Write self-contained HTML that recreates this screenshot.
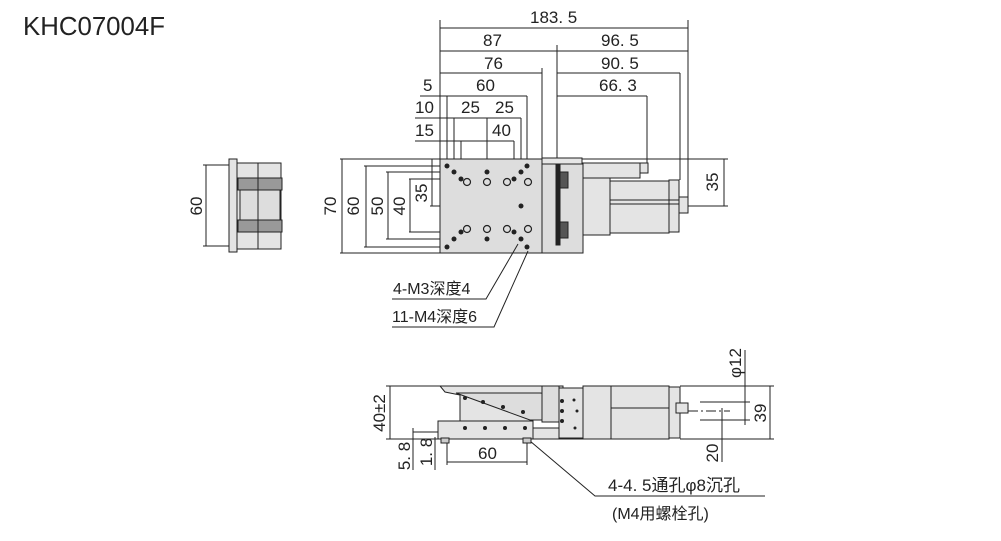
<!DOCTYPE html>
<html><head><meta charset="utf-8"><style>
html,body{margin:0;padding:0;background:#fff;}
svg{display:block}
text{font-family:"Liberation Sans","Noto Sans CJK SC",sans-serif;fill:#222;}
</style></head><body>
<svg width="1001" height="541" viewBox="0 0 1001 541" xmlns="http://www.w3.org/2000/svg">
<text x="23" y="35" font-size="26" textLength="142" lengthAdjust="spacingAndGlyphs">KHC07004F</text>

<g stroke="#222" stroke-width="1" fill="none">
<line x1="440" y1="20" x2="440" y2="159"/>
<line x1="688" y1="20" x2="688" y2="200"/>
<line x1="440" y1="28" x2="688" y2="28"/>
<line x1="440" y1="51" x2="688" y2="51"/>
<line x1="557" y1="45" x2="557" y2="160"/>
<line x1="440" y1="73" x2="542" y2="73"/>
<line x1="542" y1="68" x2="542" y2="160"/>
<line x1="557" y1="73" x2="680" y2="73"/>
<line x1="680" y1="73" x2="680" y2="180"/>
<line x1="447" y1="96" x2="527" y2="96"/>
<line x1="447" y1="96" x2="447" y2="166"/>
<line x1="527" y1="96" x2="527" y2="166"/>
<line x1="420" y1="96" x2="447" y2="96"/>
<line x1="557" y1="96" x2="647" y2="96"/>
<line x1="647" y1="96" x2="647" y2="165"/>
<line x1="415" y1="118" x2="521" y2="118"/>
<line x1="454" y1="118" x2="454" y2="172"/>
<line x1="487" y1="118" x2="487" y2="172"/>
<line x1="521" y1="118" x2="521" y2="206"/>
<line x1="415" y1="141" x2="514" y2="141"/>
<line x1="461" y1="141" x2="461" y2="179"/>
<line x1="514" y1="141" x2="514" y2="179"/>
<line x1="340" y1="159" x2="440" y2="159"/><line x1="340" y1="253" x2="440" y2="253"/>
<line x1="342" y1="159" x2="342" y2="253"/>
<line x1="364" y1="166" x2="447" y2="166"/><line x1="364" y1="247" x2="447" y2="247"/>
<line x1="366" y1="166" x2="366" y2="247"/>
<line x1="386" y1="172" x2="454" y2="172"/><line x1="386" y1="239" x2="454" y2="239"/>
<line x1="388" y1="172" x2="388" y2="239"/>
<line x1="409" y1="179" x2="461" y2="179"/><line x1="409" y1="232" x2="461" y2="232"/>
<line x1="410" y1="179" x2="410" y2="232"/>
<line x1="430" y1="206" x2="440" y2="206"/>
<line x1="432" y1="159" x2="432" y2="206"/>
<line x1="540" y1="206" x2="728" y2="206"/>
<line x1="540" y1="159" x2="728" y2="159"/>
<line x1="724" y1="159" x2="724" y2="206"/>
</g>
<g font-size="17">
<text x="530" y="23">183. 5</text>
<text x="483" y="46">87</text>
<text x="601" y="46">96. 5</text>
<text x="484" y="69">76</text>
<text x="601" y="69">90. 5</text>
<text x="423" y="91">5</text>
<text x="476" y="91">60</text>
<text x="599" y="91">66. 3</text>
<text x="415" y="113">10</text>
<text x="461" y="113">25</text>
<text x="495" y="113">25</text>
<text x="415" y="136">15</text>
<text x="492" y="136">40</text>
<text transform="translate(336,206) rotate(-90)" text-anchor="middle">70</text>
<text transform="translate(359,206) rotate(-90)" text-anchor="middle">60</text>
<text transform="translate(383,206) rotate(-90)" text-anchor="middle">50</text>
<text transform="translate(405,206) rotate(-90)" text-anchor="middle">40</text>
<text transform="translate(427,193) rotate(-90)" text-anchor="middle">35</text>
<text transform="translate(718,182) rotate(-90)" text-anchor="middle">35</text>
<text transform="translate(202,206) rotate(-90)" text-anchor="middle">60</text>
</g>

<g stroke="#222" stroke-width="1">
<rect x="440" y="159" width="102" height="94" fill="#ddd"/>
<rect x="542" y="163" width="41" height="90" fill="#ddd"/>
<rect x="542" y="158" width="40" height="6" fill="#e6e6e6"/>
<rect x="556" y="165" width="4" height="80" fill="#222"/>
<rect x="560" y="172" width="8" height="16" fill="#555"/>
<rect x="560" y="222" width="8" height="16" fill="#555"/>
<rect x="583" y="163" width="57" height="15" fill="#e4e4e4"/>
<rect x="640" y="163" width="8" height="10" fill="#e4e4e4"/>
<rect x="583" y="178" width="27" height="57" fill="#e4e4e4"/>
<rect x="610" y="181" width="59" height="52" fill="#e4e4e4"/>
<rect x="669" y="180" width="10" height="52" fill="#e4e4e4"/>
<rect x="679" y="197" width="9" height="16" fill="#e4e4e4"/>
<line x1="610" y1="200" x2="679" y2="200"/><line x1="610" y1="204" x2="679" y2="204"/>
</g>
<g fill="#222">
<circle cx="447" cy="166" r="2.5"/><circle cx="454" cy="172" r="2.5"/><circle cx="461" cy="179" r="2.5"/>
<circle cx="487" cy="172" r="2.5"/><circle cx="514" cy="179" r="2.5"/><circle cx="521" cy="172" r="2.5"/><circle cx="527" cy="166" r="2.5"/>
<circle cx="521" cy="206" r="2.5"/>
<circle cx="447" cy="247" r="2.5"/><circle cx="454" cy="239" r="2.5"/><circle cx="461" cy="232" r="2.5"/>
<circle cx="487" cy="239" r="2.5"/><circle cx="514" cy="232" r="2.5"/><circle cx="521" cy="239" r="2.5"/><circle cx="527" cy="247" r="2.5"/>
</g>
<g fill="none" stroke="#222" stroke-width="1.2">
<circle cx="467" cy="182" r="3.5"/><circle cx="487" cy="182" r="3.5"/><circle cx="507" cy="182" r="3.5"/><circle cx="528" cy="182" r="3.5"/>
<circle cx="467" cy="229" r="3.5"/><circle cx="487" cy="229" r="3.5"/><circle cx="507" cy="229" r="3.5"/><circle cx="528" cy="229" r="3.5"/>
</g>

<g stroke="#222" stroke-width="1">
<line x1="203" y1="165" x2="240" y2="165"/><line x1="203" y1="246" x2="240" y2="246"/>
<line x1="206" y1="165" x2="206" y2="246"/>
<rect x="229" y="159" width="8" height="93" fill="#e4e4e4"/>
<rect x="237" y="163" width="44" height="86" fill="#e4e4e4"/>
<rect x="240" y="180" width="40" height="50" fill="#ddd"/>
<rect x="238" y="178" width="44" height="12" fill="#999"/>
<rect x="238" y="220" width="44" height="12" fill="#999"/>
<line x1="258" y1="163" x2="258" y2="249"/>
</g>

<g stroke="#222" stroke-width="1" fill="none">
<polyline points="392,299 486,299 518,244"/>
<polyline points="392,327 494,327 528,251"/>
</g>
<g font-size="16">
<text x="393" y="294">4-M3深度4</text>
<text x="392" y="322">11-M4深度6</text>
</g>

<g stroke="#222" stroke-width="1" fill="none">
<line x1="386" y1="386" x2="440" y2="386"/>
<line x1="386" y1="439" x2="440" y2="439"/>
<line x1="390" y1="386" x2="390" y2="439"/>
<line x1="413" y1="428" x2="413" y2="470"/>
<line x1="435" y1="437" x2="435" y2="470"/>
<line x1="413" y1="432" x2="440" y2="432"/>
<line x1="447" y1="440" x2="447" y2="465"/>
<line x1="527" y1="440" x2="527" y2="465"/>
<line x1="447" y1="462" x2="527" y2="462"/>
<line x1="680" y1="386" x2="774" y2="386"/>
<line x1="680" y1="439" x2="774" y2="439"/>
<line x1="770" y1="386" x2="770" y2="439"/>
<line x1="745" y1="350" x2="745" y2="425"/>
<line x1="700" y1="402" x2="750" y2="402"/>
<line x1="700" y1="420" x2="750" y2="420"/>
<line x1="722" y1="408" x2="722" y2="462"/>
<line x1="688" y1="411" x2="730" y2="411" stroke-dasharray="10,3,2,3"/>
<polyline points="530,441 595,496 765,496"/>
</g>
<g stroke="#222" stroke-width="1">
<path d="M440,386 H563 V420 H533 V430 H460 V395 L445,392 Z" fill="#e4e4e4"/>
<path d="M456,393 L540,393 Q548,393 548,402 V420 L530,420 Z" fill="#ddd"/>
<rect x="438" y="421" width="95" height="18" fill="#e4e4e4"/>
<rect x="533" y="428" width="50" height="11" fill="#e4e4e4"/>
<rect x="542" y="386" width="17" height="36" fill="#ddd"/>
<rect x="559" y="388" width="24" height="50" fill="#e4e4e4"/>
<rect x="583" y="386" width="28" height="53" fill="#e4e4e4"/>
<rect x="611" y="386" width="58" height="53" fill="#e4e4e4"/>
<rect x="669" y="387" width="11" height="51" fill="#e4e4e4"/>
<rect x="676" y="403" width="12" height="10" fill="#e4e4e4"/>
<line x1="611" y1="408" x2="669" y2="408"/>
<rect x="441" y="438" width="8" height="5" fill="#ccc"/><rect x="523" y="438" width="8" height="5" fill="#ccc"/>
</g>
<g fill="#222">
<circle cx="465" cy="398" r="2"/><circle cx="483" cy="402" r="2"/><circle cx="503" cy="407" r="2"/><circle cx="523" cy="412" r="2"/>
<circle cx="465" cy="428" r="2"/><circle cx="485" cy="428" r="2"/><circle cx="505" cy="428" r="2"/><circle cx="525" cy="428" r="2"/>
<circle cx="562" cy="401" r="2"/><circle cx="562" cy="411" r="2"/><circle cx="562" cy="421" r="2"/>
<circle cx="574" cy="400" r="1.5"/><circle cx="577" cy="411" r="1.5"/><circle cx="575" cy="428" r="1.5"/>
</g>
<g font-size="17">
<text transform="translate(385,413) rotate(-90)" text-anchor="middle">40±2</text>
<text transform="translate(410,456) rotate(-90)" text-anchor="middle">5. 8</text>
<text transform="translate(432,452) rotate(-90)" text-anchor="middle">1. 8</text>
<text x="478" y="459">60</text>
<text transform="translate(766,413) rotate(-90)" text-anchor="middle">39</text>
<text transform="translate(741,363) rotate(-90)" text-anchor="middle">φ12</text>
<text transform="translate(718,453) rotate(-90)" text-anchor="middle">20</text>
<text x="608" y="491">4-4. 5通孔φ8沉孔</text>
<text x="612" y="519" font-size="16">(M4用螺栓孔)</text>
</g>
</svg>
</body></html>
